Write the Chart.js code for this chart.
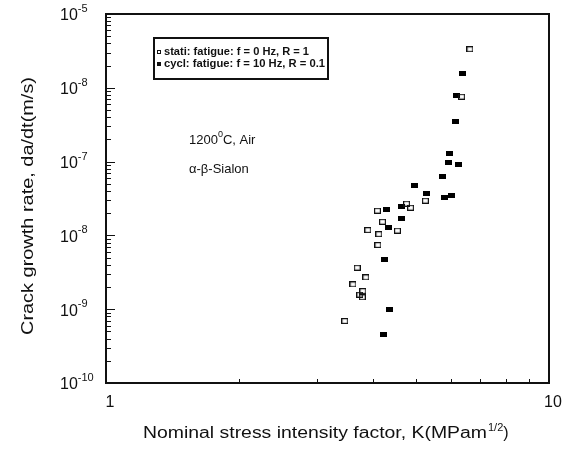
<!DOCTYPE html>
<html><head><meta charset="utf-8">
<script src="https://cdn.jsdelivr.net/npm/chart.js@4.4.0/dist/chart.umd.min.js"></script>
<style>html,body{margin:0;padding:0;background:#fff}#wrap{width:565px;height:450px;position:relative}</style>
</head><body><div id="wrap"><canvas id="c" width="565" height="450"></canvas></div>
<script>
// ---- data ----
const staticK    = [6.63, 6.35, 5.26, 4.77, 4.87, 4.10, 4.21, 3.90, 4.13, 4.55, 4.11, 3.69, 3.86, 3.61, 3.80, 3.74, 3.79, 3.46];
const staticRate = [3.33e-6, 7.57e-7, 2.95e-8, 2.69e-8, 2.37e-8, 2.16e-8, 1.53e-8, 1.18e-8, 1.04e-8, 1.16e-8, 7.41e-9, 3.65e-9, 2.70e-9, 2.17e-9, 1.76e-9, 1.57e-9, 1.45e-9, 6.92e-10];
const cyclicK    = [6.39, 6.19, 6.16, 5.97, 5.94, 6.24, 5.74, 4.96, 5.30, 5.82, 6.01, 4.64, 4.29, 4.65, 4.35, 4.25, 4.37, 4.23];
const cyclicRate = [1.54e-6, 7.82e-7, 3.52e-7, 1.28e-7, 9.79e-8, 9.19e-8, 6.28e-8, 4.71e-8, 3.72e-8, 3.31e-8, 3.45e-8, 2.50e-8, 2.23e-8, 1.71e-8, 1.26e-8, 4.74e-9, 9.97e-10, 4.57e-10];
const seriesLabels = ['stati: fatigue: f = 0 Hz, R = 1', 'cycl: fatigue: f = 10 Hz, R = 0.1'];
const xTickValues = [1, 10];
const xTickLabels = ['1', '10'];
const xMinorTicks = [2, 3, 4, 5, 6, 7, 8, 9];
const yTickValues = [1e-10, 1e-9, 1e-8, 1e-7, 1e-6, 1e-5];
const yTickBase = '10';
const yTickExponents = ['-10', '-9', '-8', '-7', '-8', '-5']; // as printed in the source figure
const yMinorMultipliers = [2, 3, 4, 5, 6, 7, 8, 9];
const xTitleMain = 'Nominal stress intensity factor, K(MPam';
const xTitleSup = '1/2';
const xTitleEnd = ')';
const yTitle = 'Crack growth rate, da/dt(m/s)';
const noteLine1 = ['1200', '0', 'C, Air'];
const noteLine2 = 'α-β-Sialon';

function markerCanvas(filled, w, h) {
  const cv = document.createElement('canvas');
  cv.width = w; cv.height = h;
  const g = cv.getContext('2d');
  if (filled) { g.fillStyle = '#000'; g.fillRect(0, 0, w, h); }
  else { g.strokeStyle = '#111'; g.lineWidth = 1.2; g.strokeRect(0.6, 0.6, w - 1.2, h - 1.2); }
  return cv;
}
const openMark = markerCanvas(false, 7, 6);
const fillMark = markerCanvas(true, 7, 5);

const FONT = "'Liberation Sans', Arial, Helvetica, sans-serif";
function fitText(ctx, text, x, y, targetW) {
  const w = ctx.measureText(text).width;
  const s = targetW / w;
  ctx.save(); ctx.translate(x, y); ctx.scale(s, 1); ctx.fillText(text, 0, 0); ctx.restore();
  return targetW;
}

const decor = {
  id: 'decor',
  afterDraw(chart) {
    const ctx = chart.ctx, a = chart.chartArea;
    const xs = chart.scales.x, ys = chart.scales.y;
    ctx.save();
    ctx.strokeStyle = '#111'; ctx.fillStyle = '#111';
    // frame
    ctx.lineWidth = 2;
    ctx.strokeRect(a.left, a.top, a.right - a.left, a.bottom - a.top);
    // y ticks (inward)
    ctx.lineWidth = 1;
    yTickValues.forEach((v, i) => {
      const py = Math.round(ys.getPixelForValue(v)) + 0.5;
      ctx.beginPath(); ctx.moveTo(a.left, py); ctx.lineTo(a.left + 9, py); ctx.stroke();
      if (i < yTickValues.length - 1) {
        yMinorMultipliers.forEach(m => {
          const q = Math.round(ys.getPixelForValue(v * m)) + 0.5;
          ctx.beginPath(); ctx.moveTo(a.left, q); ctx.lineTo(a.left + 5, q); ctx.stroke();
        });
      }
    });
    // x minor ticks (inward)
    xMinorTicks.forEach(v => {
      const px = Math.round(xs.getPixelForValue(v)) + 0.5;
      ctx.beginPath(); ctx.moveTo(px, a.bottom); ctx.lineTo(px, a.bottom - 4); ctx.stroke();
    });
    // y tick labels
    ctx.textBaseline = 'middle'; ctx.textAlign = 'left';
    yTickValues.forEach((v, i) => {
      const py = ys.getPixelForValue(v) + 2;
      ctx.font = '16px ' + FONT;
      ctx.fillText(yTickBase, 60, py);
      const w = ctx.measureText(yTickBase).width;
      ctx.font = '11px ' + FONT;
      ctx.fillText(yTickExponents[i], 60 + w, py - 7);
    });
    // x tick labels
    ctx.textAlign = 'center'; ctx.font = '16px ' + FONT;
    xTickValues.forEach((v, i) => {
      const px = xs.getPixelForValue(v);
      ctx.fillText(xTickLabels[i], px + 4, a.bottom + 20);
    });
    // y title
    ctx.save();
    ctx.translate(28, 206); ctx.rotate(-Math.PI / 2);
    ctx.textAlign = 'left'; ctx.textBaseline = 'middle';
    ctx.font = '17px ' + FONT;
    fitText(ctx, yTitle, -129, 0, 258);
    ctx.restore();
    // x title
    ctx.textAlign = 'left'; ctx.textBaseline = 'alphabetic';
    ctx.font = '16px ' + FONT;
    let xx = 143;
    const wMain = 344;
    fitText(ctx, xTitleMain, xx, 438, wMain); xx += wMain;
    ctx.font = '11px ' + FONT;
    ctx.fillText(xTitleSup, xx + 1, 431); xx += ctx.measureText(xTitleSup).width + 1;
    ctx.font = '16px ' + FONT;
    ctx.fillText(xTitleEnd, xx, 438);
    // legend box
    ctx.lineWidth = 2;
    ctx.strokeRect(154, 38, 174, 41);
    ctx.lineWidth = 1;
    ctx.strokeRect(157.5, 50.5, 3, 3);
    ctx.fillRect(157, 62, 4, 4);
    ctx.font = 'bold 10px ' + FONT; ctx.textBaseline = 'middle';
    fitText(ctx, seriesLabels[0], 164, 52.5, 145);
    fitText(ctx, seriesLabels[1], 164, 64, 161);
    // notes
    ctx.font = '13px ' + FONT; ctx.textBaseline = 'alphabetic';
    let nx = 189;
    ctx.fillText(noteLine1[0], nx, 144); nx += ctx.measureText(noteLine1[0]).width;
    ctx.font = '9px ' + FONT;
    ctx.fillText(noteLine1[1], nx, 137); nx += ctx.measureText(noteLine1[1]).width;
    ctx.font = '13px ' + FONT;
    ctx.fillText(noteLine1[2], nx, 144);
    ctx.fillText(noteLine2, 189, 173);
    ctx.restore();
  }
};

new Chart(document.getElementById('c'), {
  type: 'scatter',
  data: {
    datasets: [
      { label: seriesLabels[0], data: staticK.map((k, i) => ({ x: k, y: staticRate[i] })), pointStyle: openMark, pointRadius: 4, pointHoverRadius: 4 },
      { label: seriesLabels[1], data: cyclicK.map((k, i) => ({ x: k, y: cyclicRate[i] })), pointStyle: fillMark, pointRadius: 4, pointHoverRadius: 4 }
    ]
  },
  options: {
    responsive: false, animation: false, devicePixelRatio: 1,
    layout: { padding: { left: 106, right: 16, top: 14, bottom: 67 } },
    plugins: { legend: { display: false }, tooltip: { enabled: false } },
    scales: {
      x: { type: 'logarithmic', min: 1, max: 10, display: false },
      y: { type: 'logarithmic', min: 1e-10, max: 1e-5, display: false }
    }
  },
  plugins: [decor]
});
</script>
</body></html>
